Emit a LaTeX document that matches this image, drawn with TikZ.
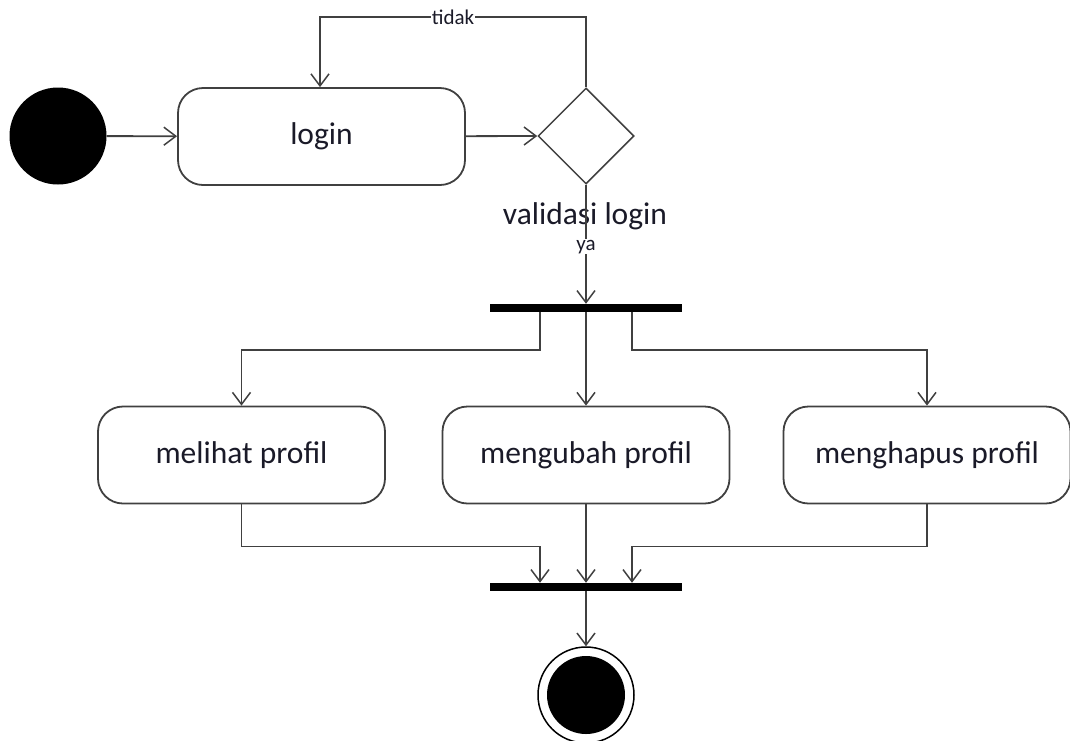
\documentclass[tikz,border=0pt]{standalone}
\usepackage{fontspec}
\setmainfont{Carlito}
\usetikzlibrary{shapes.geometric,arrows.meta,calc}
\definecolor{ln}{HTML}{404040}
\definecolor{tx}{HTML}{1A1A28}
\tikzset{
  act/.style={draw=ln,line width=1.8pt,rounded corners=25pt,minimum width=287pt,minimum height=97pt,inner sep=0pt,text=tx,font=\fontsize{31.5}{36}\selectfont},
  decis/.style={diamond,draw=ln,line width=1.5pt,minimum width=96pt,minimum height=96pt,inner sep=0pt},
  bar/.style={fill=black,minimum width=192pt,minimum height=8pt,inner sep=0pt},
  flow/.style={draw=ln,line width=1.8pt,-{Straight Barb[length=12pt,width=18pt,line width=1.5pt]}},
  small/.style={font=\fontsize{21}{24}\selectfont,text=tx},
}
\begin{document}
\begin{tikzpicture}[x=1pt,y=-1pt]
\useasboundingbox (0,0) rectangle (1070,740);
\node[circle,fill=black,minimum size=97pt,inner sep=0pt] (init) at (58,136) {};
\node[act] (login) at (321.5,136.5) {login};
\node[decis] (dec) at (586,136) {};
\node[font=\fontsize{31.5}{36}\selectfont,text=tx] (vl) at (585,216) {validasi login};
\node[bar] (f1) at (586,308) {};
\node[act] (m1) at (241.5,455) {melihat profil};
\node[act] (m2) at (586,455) {mengubah profil};
\node[act] (m3) at (927,455) {menghapus profil};
\node[bar] (f2) at (586,587) {};
\node[circle,draw=black,line width=1.5pt,minimum size=96pt,inner sep=0pt] (fin) at (586,695) {};
\node[circle,fill=black,minimum size=78pt,inner sep=0pt] (finin) at (fin.center) {};

\draw[flow] (init) -- (login);
\draw[flow] (login) -- (dec.west);
\draw[flow] (dec.north) -- ++(0,-70) -| node[pos=0.25,small,fill=white,inner sep=1pt] (tdk) {tidak} ([xshift=-1.5pt]login.north);
\draw[flow] (dec.south) -- node[pos=0.52,small,fill=white,inner sep=1pt] (ya) {ya} (f1.north);
\draw[flow] ([xshift=-46pt]f1.south) -- ++(0,38) -| (m1.north);
\draw[flow] (f1.south) -- (m2.north);
\draw[flow] ([xshift=46pt]f1.south) -- ++(0,38) -| (m3.north);
\draw[flow] (m1.south) -- ++(0,42) -| ([xshift=-46pt]f2.north);
\draw[flow] (m2.south) -- (f2.north);
\draw[flow] (m3.south) -- ++(0,42) -| ([xshift=46pt]f2.north);
\draw[flow] (f2.south) -- (fin.north);
\end{tikzpicture}
\end{document}
